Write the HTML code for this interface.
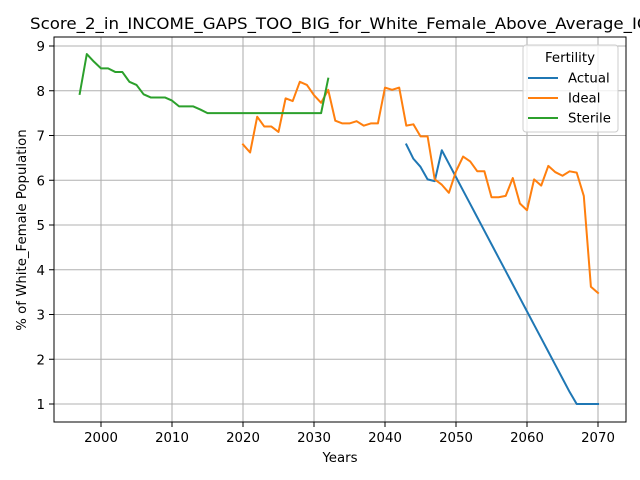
<!DOCTYPE html>
<html><head><meta charset="utf-8"><style>
body{margin:0;background:#fff}
svg{display:block;font-family:"DejaVu Sans","Liberation Sans",sans-serif}
</style></head><body>
<svg id="chart" width="640" height="480">
<rect width="640" height="480" fill="#fff"/>
<g id="grid"></g>
<g id="series"></g>
<rect x="54" y="37" width="572" height="385" fill="none" stroke="#000" stroke-width="1"/>
<g id="ticks"></g>
<text x="30" y="29" font-size="16" textLength="620" lengthAdjust="spacingAndGlyphs">Score_2_in_INCOME_GAPS_TOO_BIG_for_White_Female_Above_Average_IQ</text>
<text x="340" y="462" font-size="13.3" text-anchor="middle">Years</text>
<text transform="translate(26,230) rotate(-90)" font-size="13.3" text-anchor="middle">% of White_Female Population</text>
<g>
<rect x="523" y="45" width="95" height="87" rx="3" fill="#fff" fill-opacity="0.8" stroke="#ccc"/>
<text x="570" y="62" font-size="13.3" text-anchor="middle">Fertility</text>
<line x1="528" y1="78" x2="558" y2="78" stroke="#1f77b4" stroke-width="2"/>
<text x="568" y="82.5" font-size="13.3">Actual</text>
<line x1="528" y1="98" x2="558" y2="98" stroke="#ff7f0e" stroke-width="2"/>
<text x="568" y="102.5" font-size="13.3">Ideal</text>
<line x1="528" y1="118" x2="558" y2="118" stroke="#2ca02c" stroke-width="2"/>
<text x="568" y="122.5" font-size="13.3">Sterile</text>
</g>
</svg>
<script>
const xTicks=[2000,2010,2020,2030,2040,2050,2060,2070];
const yTicks=[1,2,3,4,5,6,7,8,9];
const sterileYears=[1997,1998,1999,2000,2001,2002,2003,2004,2005,2006,2007,2008,2009,2010,2011,2012,2013,2014,2015,2016,2017,2018,2019,2020,2021,2022,2023,2024,2025,2026,2027,2028,2029,2030,2031,2032];
const sterileVals=[7.93,8.82,8.65,8.5,8.5,8.42,8.42,8.2,8.13,7.92,7.85,7.85,7.85,7.78,7.65,7.65,7.65,7.58,7.5,7.5,7.5,7.5,7.5,7.5,7.5,7.5,7.5,7.5,7.5,7.5,7.5,7.5,7.5,7.5,7.5,8.27];
const idealYears=[2020,2021,2022,2023,2024,2025,2026,2027,2028,2029,2030,2031,2032,2033,2034,2035,2036,2037,2038,2039,2040,2041,2042,2043,2044,2045,2046,2047,2048,2049,2050,2051,2052,2053,2054,2055,2056,2057,2058,2059,2060,2061,2062,2063,2064,2065,2066,2067,2068,2069,2070];
const idealVals=[6.8,6.62,7.42,7.2,7.2,7.08,7.83,7.77,8.2,8.13,7.9,7.73,8.02,7.33,7.27,7.27,7.32,7.22,7.27,7.27,8.07,8.02,8.07,7.22,7.25,6.98,6.98,6.02,5.9,5.72,6.2,6.53,6.42,6.2,6.2,5.62,5.62,5.65,6.05,5.48,5.33,6.02,5.88,6.32,6.18,6.1,6.2,6.17,5.65,3.62,3.48];
const actualYears=[2043,2044,2045,2046,2047,2048,2049,2050,2051,2052,2053,2054,2055,2056,2057,2058,2059,2060,2061,2062,2063,2064,2065,2066,2067,2068,2069,2070];
const actualVals=[6.8,6.48,6.3,6.02,5.98,6.67,6.37,6.07,5.77,5.47,5.17,4.87,4.57,4.27,3.97,3.67,3.37,3.07,2.77,2.47,2.17,1.87,1.57,1.27,1.0,1.0,1.0,1.0];
const NS='http://www.w3.org/2000/svg';
const xs=v=>101+(v-2000)*(598-101)/70;
const ys=v=>404-(v-1)*(404-46)/8;
const grid=document.getElementById('grid'),ticks=document.getElementById('ticks'),ser=document.getElementById('series');
function mk(t,a,p){const e=document.createElementNS(NS,t);for(const k in a)e.setAttribute(k,a[k]);p.appendChild(e);return e;}
xTicks.forEach(t=>{const x=xs(t);
const g=mk('line',{x1:x,x2:x,y1:37,y2:422,stroke:'#b0b0b0','stroke-width':1.07},grid);


mk('line',{x1:x,x2:x,y1:422,y2:427,stroke:'#000'},ticks);
const l=mk('text',{x:x,y:442,'font-size':13.3,'text-anchor':'middle'},ticks);l.textContent=t;

});
yTicks.forEach(t=>{const y=ys(t);
const g=mk('line',{x1:54,x2:626,y1:y,y2:y,stroke:'#b0b0b0','stroke-width':1.07},grid);


mk('line',{x1:49,x2:54,y1:y,y2:y,stroke:'#000'},ticks);
const l=mk('text',{x:45,y:y+5,'font-size':13.3,'text-anchor':'end'},ticks);l.textContent=t;

});
function line(xa,va,c,n){const p=mk('polyline',{points:xa.map((x,i)=>xs(x)+','+ys(va[i])).join(' '),fill:'none',stroke:c,'stroke-width':2,'stroke-linejoin':'round','stroke-linecap':'square'},ser);

}
line(actualYears,actualVals,'#1f77b4','actual-line');
line(idealYears,idealVals,'#ff7f0e','ideal-line');
line(sterileYears,sterileVals,'#2ca02c','sterile-line');
</script>
</body></html>
